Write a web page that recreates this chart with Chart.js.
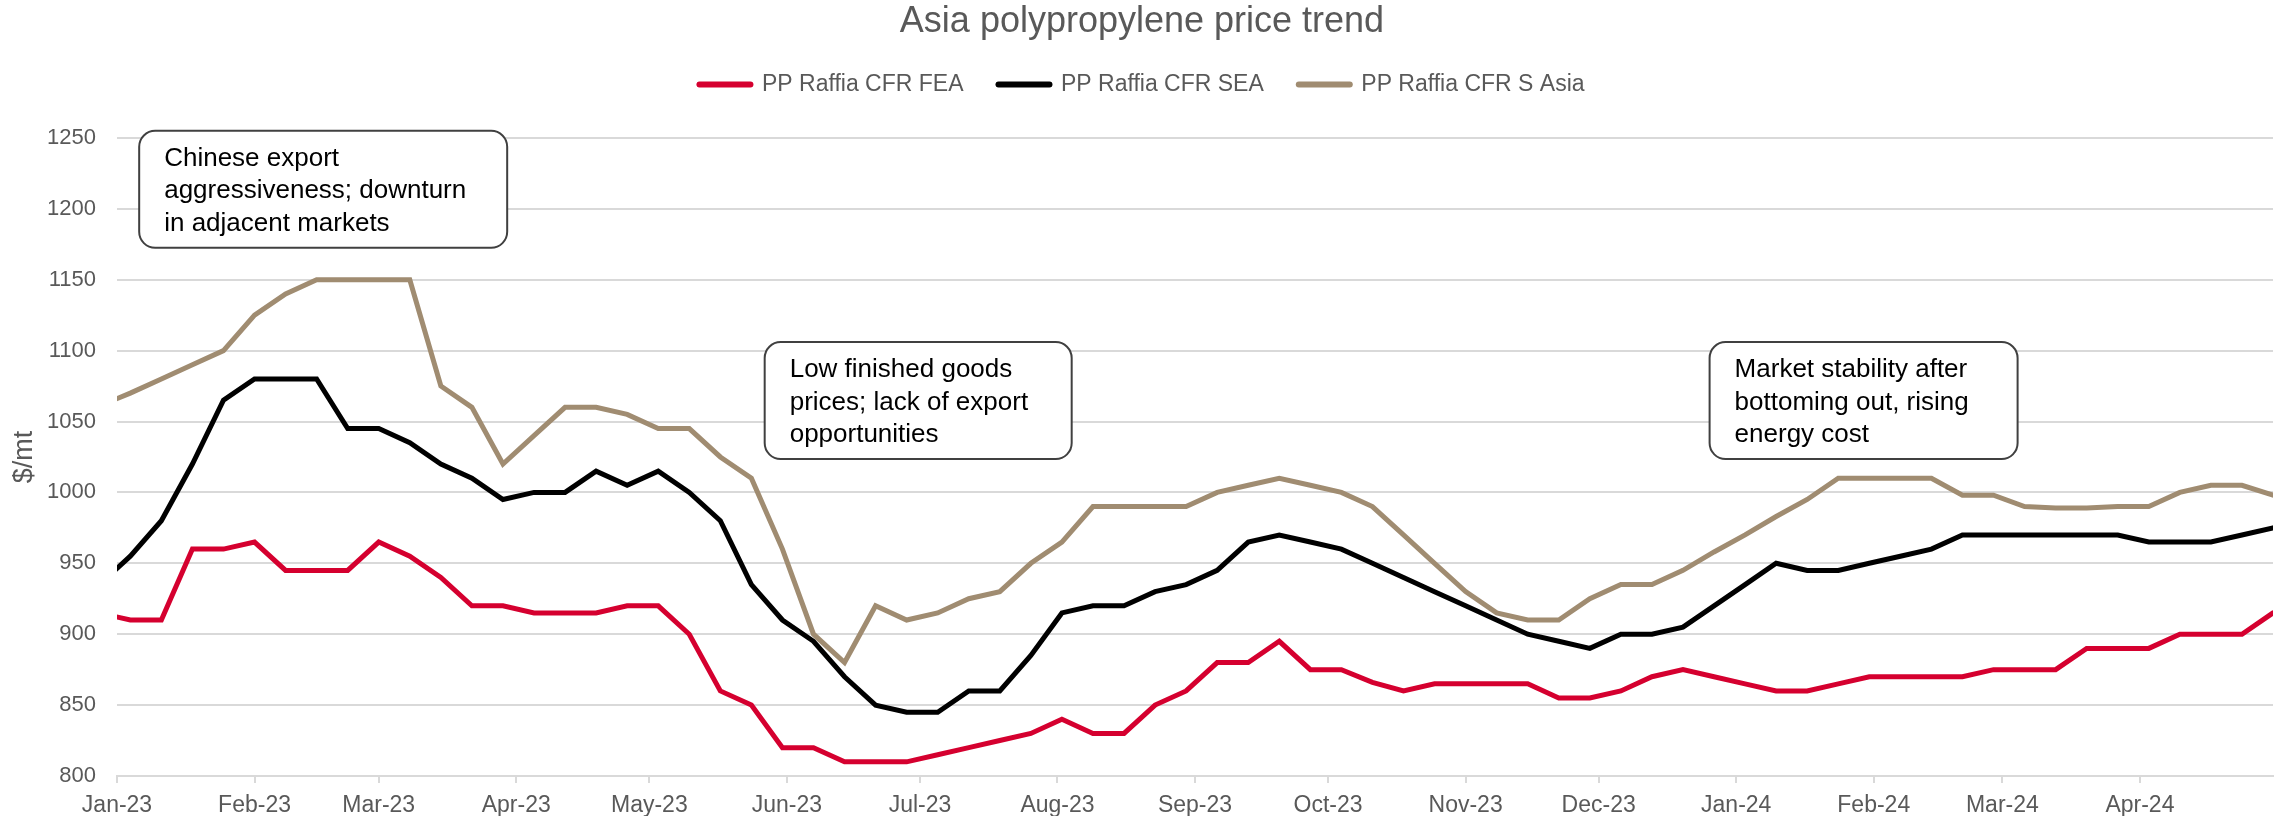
<!DOCTYPE html>
<html lang="en">
<head>
<meta charset="UTF-8">
<title>Asia polypropylene price trend</title>
<script src="https://cdn.jsdelivr.net/npm/chart.js"></script>
<style>
    html, body {
        margin: 0;
        padding: 0;
        background: #ffffff;
    }
</style>
</head>
<body>
<canvas id="ppChart" width="2282" height="818"></canvas>

<script>
    // weekly assessment dates (first one sits just before the axis start)
    const weeks = [
        '2022-12-28',
        '2023-01-04', '2023-01-11', '2023-01-18', '2023-01-25',
        '2023-02-01', '2023-02-08', '2023-02-15', '2023-02-22',
        '2023-03-01', '2023-03-08', '2023-03-15', '2023-03-22', '2023-03-29',
        '2023-04-05', '2023-04-12', '2023-04-19', '2023-04-26',
        '2023-05-03', '2023-05-10', '2023-05-17', '2023-05-24', '2023-05-31',
        '2023-06-07', '2023-06-14', '2023-06-21', '2023-06-28',
        '2023-07-05', '2023-07-12', '2023-07-19', '2023-07-26',
        '2023-08-02', '2023-08-09', '2023-08-16', '2023-08-23', '2023-08-30',
        '2023-09-06', '2023-09-13', '2023-09-20', '2023-09-27',
        '2023-10-04', '2023-10-11', '2023-10-18', '2023-10-25',
        '2023-11-01', '2023-11-08', '2023-11-15', '2023-11-22', '2023-11-29',
        '2023-12-06', '2023-12-13', '2023-12-20', '2023-12-27',
        '2024-01-03', '2024-01-10', '2024-01-17', '2024-01-24', '2024-01-31',
        '2024-02-07', '2024-02-14', '2024-02-21', '2024-02-28',
        '2024-03-06', '2024-03-13', '2024-03-20', '2024-03-27',
        '2024-04-03', '2024-04-10', '2024-04-17', '2024-04-24',
        '2024-05-01'
    ];

    // $/mt
    const cfrFEA = [
        915,
        910, 910, 960, 960,
        965, 945, 945, 945,
        965, 955, 940, 920, 920,
        915, 915, 915, 920,
        920, 900, 860, 850, 820,
        820, 810, 810, 810,
        815, 820, 825, 830,
        840, 830, 830, 850, 860,
        880, 880, 895, 875,
        875, 866, 860, 865,
        865, 865, 865, 855, 855,
        860, 870, 875, 870,
        865, 860, 860, 865, 870,
        870, 870, 870, 875,
        875, 875, 890, 890,
        890, 900, 900, 900,
        915
    ];
    const cfrSEA = [
        935,
        955, 980, 1020, 1065,
        1080, 1080, 1080, 1045,
        1045, 1035, 1020, 1010, 995,
        1000, 1000, 1015, 1005,
        1015, 1000, 980, 935, 910,
        895, 870, 850, 845,
        845, 860, 860, 885,
        915, 920, 920, 930, 935,
        945, 965, 970, 965,
        960, 950, 940, 930,
        920, 910, 900, 895, 890,
        900, 900, 905, 920,
        935, 950, 945, 945, 950,
        955, 960, 970, 970,
        970, 970, 970, 970,
        965, 965, 965, 970,
        975
    ];
    const cfrSAsia = [
        1061,
        1070, 1080, 1090, 1100,
        1125, 1140, 1150, 1150,
        1150, 1150, 1075, 1060, 1020,
        1040, 1060, 1060, 1055,
        1045, 1045, 1025, 1010, 960,
        900, 880, 920, 910,
        915, 925, 930, 950,
        965, 990, 990, 990, 990,
        1000, 1005, 1010, 1005,
        1000, 990, 970, 950,
        930, 915, 910, 910, 925,
        935, 935, 945, 958,
        970, 983, 995, 1010, 1010,
        1010, 1010, 998, 998,
        990, 989, 989, 990,
        990, 1000, 1005, 1005,
        998
    ];

    const seriesNames = ['PP Raffia CFR FEA', 'PP Raffia CFR SEA', 'PP Raffia CFR S Asia'];

    const monthStarts = [
        '2023-01-01', '2023-02-01', '2023-03-01', '2023-04-01', '2023-05-01', '2023-06-01',
        '2023-07-01', '2023-08-01', '2023-09-01', '2023-10-01', '2023-11-01', '2023-12-01',
        '2024-01-01', '2024-02-01', '2024-03-01', '2024-04-01'
    ];
    const monthLabels = [
        'Jan-23', 'Feb-23', 'Mar-23', 'Apr-23', 'May-23', 'Jun-23',
        'Jul-23', 'Aug-23', 'Sep-23', 'Oct-23', 'Nov-23', 'Dec-23',
        'Jan-24', 'Feb-24', 'Mar-24', 'Apr-24'
    ];
    const axisStart = '2023-01-01';
    const axisEnd = '2024-05-01';

    // call-out boxes: text, anchored at (date, price) of their top-left corner
    const noteTexts = [
        ['Chinese export', 'aggressiveness; downturn', 'in adjacent markets'],
        ['Low finished goods', 'prices; lack of export', 'opportunities'],
        ['Market stability after', 'bottoming out, rising', 'energy cost']
    ];
    const noteDates = ['2023-01-06', '2023-05-27', '2023-12-26'];
    const noteValues = [1255, 1106, 1106];

    // days since axis start
    const DAY = 86400000;
    const toDay = s => (Date.parse(s) - Date.parse(axisStart)) / DAY;

    const pairs = vals => vals.map((v, i) => ({x: toDay(weeks[i]), y: v}));

    const FONT = '"Liberation Sans", Arial, sans-serif';
    const GREY = '#595959';

    // draws the rounded call-out boxes
    const notesPlugin = {
        id: 'notes',
        afterDraw(chart, args, opts) {
            const {ctx} = chart;
            const xs = chart.scales.x;
            const ys = chart.scales.y;
            ctx.save();
            ctx.font = opts.fontSize + 'px ' + FONT;
            ctx.textBaseline = 'alphabetic';
            noteTexts.forEach((lines, i) => {
                const left = xs.getPixelForValue(toDay(noteDates[i]));
                const top = ys.getPixelForValue(noteValues[i]);
                ctx.beginPath();
                ctx.roundRect(left, top, opts.widths[i], opts.height, opts.radius);
                ctx.fillStyle = '#ffffff';
                ctx.fill();
                ctx.lineWidth = 2;
                ctx.strokeStyle = '#404040';
                ctx.stroke();
                ctx.fillStyle = '#000000';
                lines.forEach((t, j) => {
                    ctx.fillText(t, left + opts.padX, top + opts.firstLine + j * opts.lineGap);
                });
            });
            ctx.restore();
        }
    };

    const ctx = document.getElementById('ppChart').getContext('2d');
    new Chart(ctx, {
        type: 'line',
        data: {
            datasets: [
                {label: seriesNames[0], data: pairs(cfrFEA), borderColor: '#d5002f', backgroundColor: '#d5002f'},
                {label: seriesNames[1], data: pairs(cfrSEA), borderColor: '#000000', backgroundColor: '#000000'},
                {label: seriesNames[2], data: pairs(cfrSAsia), borderColor: '#a08c71', backgroundColor: '#a08c71'}
            ]
        },
        options: {
            responsive: false,
            animation: false,
            devicePixelRatio: 1,
            layout: {
                padding: {left: 11, right: 9, top: 0, bottom: 2}
            },
            elements: {
                line: {borderWidth: 5, tension: 0, borderCapStyle: 'round'},
                point: {radius: 0, hoverRadius: 0}
            },
            scales: {
                x: {
                    type: 'linear',
                    min: toDay(axisStart),
                    max: toDay(axisEnd),
                    afterBuildTicks: axis => {
                        axis.ticks = monthStarts.map(d => ({value: toDay(d)}));
                    },
                    // tick padding is counted twice by the fit, so pin the height
                    afterFit: axis => {
                        axis.height = 40;
                    },
                    ticks: {
                        autoSkip: false,
                        maxRotation: 0,
                        padding: 11,
                        color: GREY,
                        font: {family: FONT, size: 23, lineHeight: 1},
                        callback: (value, index) => monthLabels[index]
                    },
                    grid: {
                        drawOnChartArea: false,
                        drawTicks: true,
                        tickLength: 7,
                        color: '#d9d9d9',
                        lineWidth: 2
                    },
                    border: {display: true, color: '#d9d9d9', width: 2}
                },
                y: {
                    min: 800,
                    max: 1250,
                    afterFit: axis => {
                        axis.width = 106;
                    },
                    ticks: {
                        stepSize: 50,
                        padding: 21,
                        color: GREY,
                        font: {family: FONT, size: 22},
                        callback: value => String(value)
                    },
                    grid: {color: '#d9d9d9', lineWidth: 2, drawTicks: false},
                    border: {display: false},
                    title: {
                        display: true,
                        text: '$/mt',
                        color: GREY,
                        font: {family: FONT, size: 27, lineHeight: 1},
                        padding: {top: 0, bottom: 11}
                    }
                }
            },
            plugins: {
                title: {
                    display: true,
                    text: 'Asia polypropylene price trend',
                    color: GREY,
                    font: {family: FONT, size: 36, weight: 'normal', lineHeight: 0.9},
                    padding: {top: 5.5, bottom: 0}
                },
                legend: {
                    position: 'top',
                    labels: {
                        usePointStyle: true,
                        pointStyle: 'line',
                        pointStyleWidth: 51,
                        padding: 35,
                        color: GREY,
                        font: {family: FONT, size: 23},
                        generateLabels: chart => Chart.defaults.plugins.legend.labels.generateLabels(chart)
                            .map(item => Object.assign(item, {lineWidth: 6, lineCap: 'round'}))
                    }
                },
                // empty line that keeps a gap between legend and plot
                subtitle: {
                    display: true,
                    text: ' ',
                    weight: 500,
                    font: {size: 10, lineHeight: 1},
                    padding: {top: 22, bottom: 0}
                },
                tooltip: {enabled: false},
                notes: {
                    widths: [368, 307, 308],
                    height: 117,
                    radius: 16,
                    padX: 25,
                    firstLine: 35,
                    lineGap: 32.5,
                    fontSize: 26
                }
            }
        },
        plugins: [notesPlugin]
    });
</script>
</body>
</html>
